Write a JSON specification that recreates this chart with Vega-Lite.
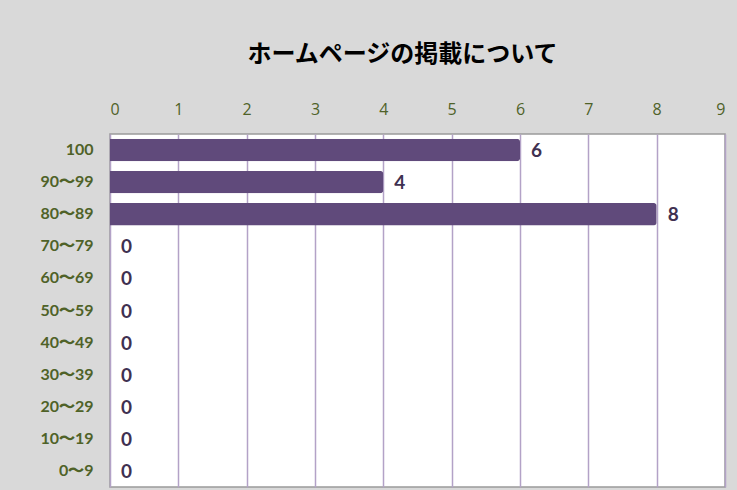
{
  "$schema": "https://vega.github.io/schema/vega-lite/v6.json",
  "autosize": {"type": "none"},
  "width": 615,
  "height": 353,
  "padding": {"left": 110, "top": 134, "right": 12, "bottom": 3},
  "background": "#d9d9d9",
  "title": {
    "text": "ホームページの掲載について",
    "font": "Noto Sans CJK JP",
    "fontSize": 24,
    "fontWeight": "bold",
    "color": "#000000",
    "anchor": "middle",
    "dx": -15,
    "offset": 34
  },
  "data": {
    "values": [
      {"range": "100", "count": 6},
      {"range": "90〜99", "count": 4},
      {"range": "80〜89", "count": 8},
      {"range": "70〜79", "count": 0},
      {"range": "60〜69", "count": 0},
      {"range": "50〜59", "count": 0},
      {"range": "40〜49", "count": 0},
      {"range": "30〜39", "count": 0},
      {"range": "20〜29", "count": 0},
      {"range": "10〜19", "count": 0},
      {"range": "0〜9", "count": 0}
    ]
  },
  "encoding": {
    "y": {
      "field": "range",
      "type": "nominal",
      "sort": null,
      "title": null,
      "scale": {"paddingInner": 0.3, "paddingOuter": 0.15},
      "axis": {
        "domain": false,
        "ticks": false,
        "labelPadding": 17,
        "labelFont": "Lato",
        "labelFontWeight": "bold",
        "labelFontSize": 16,
        "labelColor": "#4f6228"
      }
    },
    "x": {
      "field": "count",
      "type": "quantitative",
      "title": null,
      "scale": {"domain": [0, 9], "nice": false},
      "axis": {
        "orient": "top",
        "values": [0, 1, 2, 3, 4, 5, 6, 7, 8, 9],
        "format": "d",
        "domain": false,
        "ticks": false,
        "labelPadding": 17,
        "labelFont": "Open Sans",
        "labelFontSize": 16,
        "labelColor": "#4f6228",
        "grid": true,
        "gridColor": "#b3a2c7",
        "gridWidth": 1.5
      }
    }
  },
  "layer": [
    {
      "mark": {"type": "bar", "color": "#604a7b", "cornerRadiusEnd": 3}
    },
    {
      "mark": {
        "type": "text",
        "align": "left",
        "baseline": "middle",
        "dx": 11,
        "dy": 1,
        "font": "Lato",
        "fontWeight": "bold",
        "fontSize": 19,
        "color": "#3f3151"
      },
      "encoding": {"text": {"field": "count", "type": "quantitative"}}
    }
  ],
  "config": {
    "view": {"fill": "#ffffff", "stroke": "#9a9a9a", "strokeWidth": 1.5}
  }
}
